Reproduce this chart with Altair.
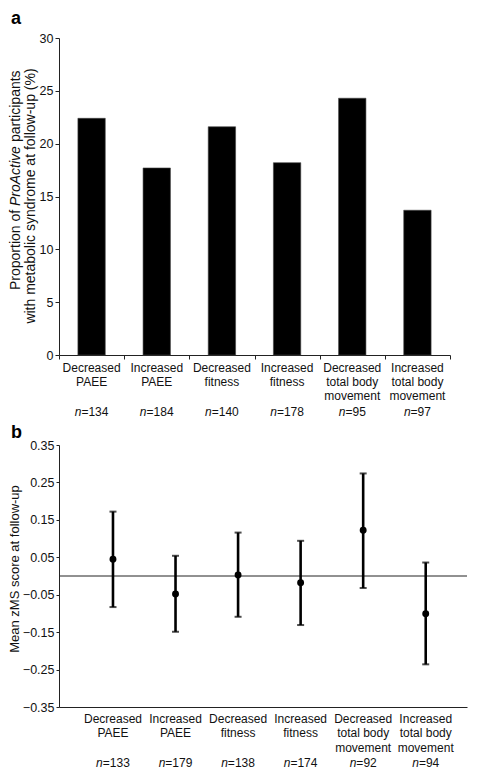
import altair as alt
import pandas as pd

FONT = "Liberation Sans"

# ---------------- data ----------------
cat_line1 = ["Decreased", "Increased", "Decreased", "Increased", "Decreased", "Increased"]
cat_line2 = ["PAEE", "PAEE", "fitness", "fitness", "total body", "total body"]
cat_line3 = ["", "", "", "", "movement", "movement"]

n_a = [134, 184, 140, 178, 95, 97]
pct_metsyn = [22.4, 17.7, 21.6, 18.2, 24.3, 13.7]

n_b = [133, 179, 138, 174, 92, 94]
zms_mean = [0.045, -0.048, 0.003, -0.018, 0.122, -0.101]
zms_lower = [-0.083, -0.149, -0.109, -0.131, -0.032, -0.236]
zms_upper = [0.172, 0.054, 0.116, 0.094, 0.274, 0.036]

y_ticks_a = [0, 5, 10, 15, 20, 25, 30]
y_ticks_b = [-0.35, -0.25, -0.15, -0.05, 0.05, 0.15, 0.25, 0.35]

title_a_pieces = ["Proportion of ", "ProActive", "participants"]
title_a_line2 = "with metabolic syndrome at follow-up (%)"
title_b = "Mean zMS score at follow-up"

df_a = pd.DataFrame({"idx": list(range(6)), "pct": pct_metsyn, "l1": cat_line1,
                     "l2": cat_line2, "l3": cat_line3, "n": n_a})
df_a["neq"] = "=" + df_a["n"].astype(str)
df_b = pd.DataFrame({"idx": list(range(6)), "m": zms_mean, "lo": zms_lower, "hi": zms_upper,
                     "l1": cat_line1, "l2": cat_line2, "l3": cat_line3, "n": n_b})
df_b["neq"] = "=" + df_b["n"].astype(str)

# ---------------- panel a ----------------
WA, HA = 391, 317
xs_a = alt.Scale(domain=[-0.5, 5.5], nice=False, zero=False)
xax_a = alt.Axis(values=[-0.5, 0.5, 1.5, 2.5, 3.5, 4.5, 5.5], labels=False, title=None,
                 grid=False, tickSize=4, tickColor="#222", domainColor="#222")
ys_a = alt.Scale(domain=[0, 30], nice=False)
yax_a = alt.Axis(values=y_ticks_a, title=None, grid=False, tickSize=4, tickColor="#222",
                 domainColor="#222", labelFont=FONT, labelFontSize=12.5, labelColor="#111",
                 labelPadding=2)

bars = alt.Chart(df_a).transform_calculate(
    x0="datum.idx - 0.21", x1="datum.idx + 0.21"
).mark_bar(color="black", stroke="#444", strokeWidth=0.6).encode(
    x=alt.X("x0:Q", scale=xs_a, axis=xax_a),
    x2="x1:Q",
    y=alt.Y("pct:Q", scale=ys_a, axis=yax_a),
    y2=alt.datum(0),
)

def cat_labels(df, xs, xax, y1, y2, y3, yn):
    base = alt.Chart(df).encode(x=alt.X("idx:Q", scale=xs, axis=xax))
    txt = dict(font=FONT, fontSize=12, color="#111", baseline="middle")
    layers = [
        base.mark_text(**txt).encode(y=alt.value(y1), text="l1:N"),
        base.mark_text(**txt).encode(y=alt.value(y2), text="l2:N"),
        base.mark_text(**txt).encode(y=alt.value(y3), text="l3:N"),
    ]
    for cond, off in [("datum.n >= 100", -10.2), ("datum.n < 100", -6.8)]:
        sub = base.transform_filter(cond)
        layers.append(sub.mark_text(align="right", dx=off, fontStyle="italic", **txt)
                      .encode(y=alt.value(yn), text=alt.value("n")))
        layers.append(sub.mark_text(align="left", dx=off, **txt)
                      .encode(y=alt.value(yn), text="neq:N"))
    return layers

one = pd.DataFrame({"k": [0]})
tstyle = dict(font=FONT, fontSize=14, color="#111", angle=270, baseline="middle")
ta1 = alt.Chart(one).mark_text(align="left", **tstyle).encode(
    x=alt.value(-43), y=alt.value(252), text=alt.value(title_a_pieces[0]))
ta2 = alt.Chart(one).mark_text(align="left", fontStyle="italic", **tstyle).encode(
    x=alt.value(-43), y=alt.value(168), text=alt.value(title_a_pieces[1]))
ta3 = alt.Chart(one).mark_text(align="left", **tstyle).encode(
    x=alt.value(-43), y=alt.value(104), text=alt.value(title_a_pieces[2]))
ta4 = alt.Chart(one).mark_text(align="center", **tstyle).encode(
    x=alt.value(-28), y=alt.value(158), text=alt.value(title_a_line2))
label_a = alt.Chart(one).mark_text(align="left", baseline="middle", font=FONT, fontSize=18,
                                   fontWeight="bold", color="black").encode(
    x=alt.value(-48), y=alt.value(-19), text=alt.value("a"))

panel_a = alt.layer(
    bars, *cat_labels(df_a, xs_a, xax_a, 330, 344, 358, 373.5), ta1, ta2, ta3, ta4, label_a
).properties(width=WA, height=HA)

# ---------------- panel b ----------------
WB, HB = 408, 262
xs_b = alt.Scale(domain=[-0.863, 5.66], nice=False, zero=False)
xax_b = alt.Axis(labels=False, ticks=False, title=None, grid=False, domainColor="#222")
ys_b = alt.Scale(domain=[-0.35, 0.35], nice=False, zero=False)
yax_b = alt.Axis(values=y_ticks_b, title=None, grid=False, tickSize=3, tickColor="#222",
                 domainColor="#222", labelFont=FONT, labelFontSize=12.5, labelColor="#111",
                 labelPadding=2,
                 labelExpr="replace(format(datum.value, '.2f'), '-', '\u2212')")

zero_line = alt.Chart(one).mark_rule(color="#222", strokeWidth=1).encode(
    y=alt.datum(0, scale=ys_b, axis=yax_b), x=alt.value(0), x2=alt.value(WB))
base_b = alt.Chart(df_b).encode(x=alt.X("idx:Q", scale=xs_b, axis=xax_b))
err = base_b.mark_rule(color="black", strokeWidth=2.6).encode(
    y=alt.Y("lo:Q", scale=ys_b, axis=yax_b), y2="hi:Q")
cap_hi = base_b.mark_tick(orient="horizontal", color="black", size=7, thickness=2).encode(
    y=alt.Y("hi:Q", scale=ys_b, axis=yax_b))
cap_lo = base_b.mark_tick(orient="horizontal", color="black", size=7, thickness=2).encode(
    y=alt.Y("lo:Q", scale=ys_b, axis=yax_b))
pts = base_b.mark_point(filled=True, color="black", opacity=1, size=48).encode(
    y=alt.Y("m:Q", scale=ys_b, axis=yax_b))

tb = alt.Chart(one).mark_text(align="center", font=FONT, fontSize=13, color="#111",
                              angle=270, baseline="middle").encode(
    x=alt.value(-44), y=alt.value(124), text=alt.value(title_b))
label_b = alt.Chart(one).mark_text(align="left", baseline="middle", font=FONT, fontSize=18,
                                   fontWeight="bold", color="black").encode(
    x=alt.value(-48), y=alt.value(-12), text=alt.value("b"))

panel_b = alt.layer(
    zero_line, err, cap_hi, cap_lo, pts,
    *cat_labels(df_b, xs_b, xax_b, 274, 288, 302.5, 317.5), tb, label_b
).properties(width=WB, height=HB)

chart = alt.vconcat(panel_a, panel_b, spacing=6).properties(
    padding={"left": 0, "top": 2, "right": 0, "bottom": 0}
).configure_view(stroke=None).configure_axis(domainWidth=1, tickWidth=1)

chart.save("out.html", embed_options={"renderer": "svg", "actions": False})
